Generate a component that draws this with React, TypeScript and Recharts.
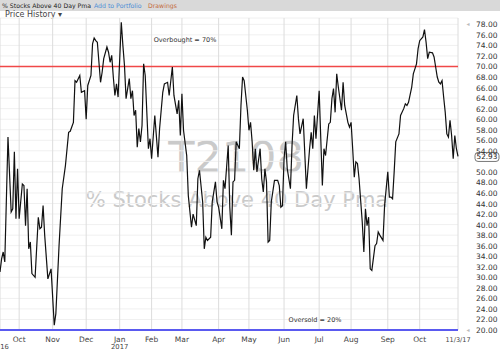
import { LineChart, Line, XAxis, YAxis, CartesianGrid, ReferenceLine } from 'recharts';

// trading-session index (0 = mid Sep 2016) and T2108 reading
const sessions = [
  0, 1, 2, 3, 5, 7, 8, 9, 10, 11,
  12, 14, 15, 16, 17, 18, 19, 20, 22, 24,
  25, 26, 27, 28, 30, 32, 34, 35, 37, 39,
  41, 43, 44, 46, 47, 48, 50, 51, 53, 54,
  55, 57, 58, 59, 60, 61, 63, 64, 65, 67,
  68, 69, 70, 71, 72, 73, 74, 76, 77, 78,
  79, 81, 82, 83, 84, 85, 86, 87, 88, 89,
  90, 91, 93, 94, 95, 97, 99, 100, 102, 103,
  105, 106, 108, 109, 111, 112, 113, 114, 115, 117,
  118, 120, 121, 123, 124, 125, 127, 128, 129, 130,
  132, 133, 135, 136, 137, 139, 140, 141, 143, 144,
  145, 146, 147, 148, 150, 151, 152, 153, 155, 156,
  157, 158, 159, 160, 161, 163, 164, 165, 166, 167,
  168, 169, 170, 172, 174, 175, 176, 177, 178, 179,
  180, 182, 183, 184, 186, 187, 188, 190, 192, 194,
  195, 196, 197, 198, 200, 202, 203, 204, 206, 207,
  208, 209, 210, 211, 212, 214, 215, 216, 218, 219,
  220, 221, 222, 223, 224, 225, 227, 228, 229, 230,
  231, 232, 233, 235, 236, 237, 238, 240, 241, 243,
  244, 245, 246, 247, 248, 250, 251, 253, 254, 255,
  256, 258, 259, 261, 262, 263, 265, 266, 267, 268,
  269, 271, 272, 273, 274, 275, 276, 277, 278, 279,
  280, 281, 282, 283, 284, 285, 286, 287,
];

const pct = [
  31, 33.5, 34.8, 32.9, 56.6, 42.4, 43, 53.8, 41.1, 50.6,
  41.1, 47.7, 47.4, 39.8, 46.8, 35.4, 36.7, 30.7, 30, 41.4,
  39.2, 39.5, 43.6, 38, 29.7, 31.6, 20.9, 23.1, 36, 46.8,
  51.2, 57.5, 57.7, 59.4, 67.3, 67, 68.3, 65.1, 65.4, 60,
  66.4, 68.3, 74.3, 75.4, 74.9, 74.6, 67, 68.9, 71.5, 73.7,
  72.7, 70.8, 72.1, 68, 64.5, 66.7, 64.2, 78.4, 74, 70.2,
  63.9, 67.7, 63.9, 65.4, 60.7, 61.7, 54.7, 58.2, 55.7, 58.8,
  70.5, 68.3, 54.4, 56.3, 52.5, 60.7, 52.8, 58.2, 65.1, 66.7,
  67, 64.5, 69.9, 64.5, 61, 63.6, 56.9, 64.8, 57.9, 53.1,
  45.5, 39.5, 42, 39.8, 48.7, 50.3, 44.3, 35.4, 37.6, 37,
  37.6, 44.3, 48.1, 44.3, 43.3, 39.2, 48.4, 46.8, 55, 43.3,
  38, 48.1, 48.4, 55.7, 54.4, 62.6, 68, 67.3, 61.7, 57.9,
  59.4, 55.7, 50.3, 54.4, 50, 54.4, 48.7, 46.2, 50.6, 48.1,
  36.7, 37, 44.3, 48.4, 48.4, 47.4, 43.3, 43.6, 52.5, 55.7,
  50.6, 46.8, 55, 60.7, 64.5, 60.1, 57.2, 60.1, 46.8, 54.4,
  57.5, 54.4, 60.7, 56.3, 65.4, 47.4, 54.4, 53.1, 59.1, 59.4,
  63.9, 65.8, 61.3, 68.6, 66.1, 61.7, 67, 62.6, 59.4, 58.5,
  59.4, 54.4, 49, 51.9, 51.6, 48.7, 40.5, 34.8, 43, 39.8,
  41.4, 31.6, 31.3, 36, 36.4, 38.6, 38, 37, 43.6, 50,
  45.2, 45.2, 44.9, 50, 55.7, 57.2, 60.7, 62, 62.9, 62.6,
  63.2, 66.1, 68.6, 70.5, 73.4, 74.9, 75.6, 77, 74.6, 71.5,
  72.7, 72.6, 71.8, 69.9, 68, 67, 66.7, 67.3, 64.2, 61.3,
  57.2, 56.6, 59.8, 56.9, 52.5, 56.9, 54.4, 52.93,
];

const monthTicks = [12, 33, 54, 75, 95, 114, 137, 156, 178, 200, 220, 243, 263, 287];
const monthLabels = ['Oct', 'Nov', 'Dec', 'Jan', 'Feb', 'Mar', 'Apr', 'May', 'Jun', 'Jul', 'Aug', 'Sep', 'Oct', '11/3/17'];
const yearLabels: Record<number, string> = { 12: '2016', 75: '2017' };
const yTicks = [20, 22, 24, 26, 28, 30, 32, 34, 36, 38, 40, 42, 44, 46, 48, 50, 52, 54, 56, 58, 60, 62, 64, 66, 68, 70, 72, 74, 76, 78];

const overbought = 70;
const oversold = 20;
const lastValue = pct[pct.length - 1];

const data = sessions.map((s, i) => ({ s, v: pct[i] }));

const FONT = '"DejaVu Sans", Verdana, sans-serif';

const MonthTick = ({ x, y, payload }: any) => {
  const i = monthTicks.indexOf(payload.value);
  const isLast = i === monthTicks.length - 1;
  const year = yearLabels[payload.value];
  return (
    <g fontFamily={FONT}>
      <text x={x} y={y + 10} textAnchor="middle" fontSize={isLast ? 6.5 : 7.5} fill="#444">
        {monthLabels[i]}
      </text>
      {year && (
        <text x={i === 0 ? x - 19 : x} y={y + 17} textAnchor="middle" fontSize={6.8} fill="#444">
          {year}
        </text>
      )}
    </g>
  );
};

const PriceTick = ({ x, y, payload }: any) => {
  const v = payload.value;
  // the last-price box sits over the nearest tick label
  if (Math.abs(v - lastValue) < 1) return null;
  return (
    <g fontFamily={FONT}>
      {(v === 78 || v === 20) && (
        <text x={x + 8} y={y + 2} textAnchor="middle" fontSize={6} fill="#bbb">◂</text>
      )}
      <text x={x + 16} y={y + 3} fontSize={7.5} fill="#333">{v.toFixed(2)}</text>
    </g>
  );
};

export default function App() {
  return (
    <div style={{ position: 'absolute', left: 0, top: 0, width: 500, height: 350, background: '#fff', fontFamily: FONT }}>
      <svg width={500} height={350} style={{ position: 'absolute', left: 0, top: 0 }}>
        <rect x={0} y={0} width={500} height={11} fill="#d9d9d9" />
        <text x={2} y={8} fontSize={6.2} fill="#222" fontFamily={FONT}>% Stocks Above 40 Day Pma</text>
        <text x={94} y={8} fontSize={6.2} fill="#4a8ed6" fontFamily={FONT}>Add to Portfolio</text>
        <text x={148} y={8} fontSize={6.2} fill="#c4693c" fontFamily={FONT}>Drawings</text>
        <text x={5} y={17} fontSize={8} fill="#444" fontFamily={FONT}>Price History ▾</text>
        <text x={236} y={172} textAnchor="middle" fontSize={43} fill="#cacaca" fontFamily={FONT}>T2108</text>
        <text x={237} y={207} textAnchor="middle" fontSize={21} fill="#cacaca" fontFamily={FONT}>% Stocks Above 40 Day Pma</text>
      </svg>
      <div style={{ position: 'absolute', left: 0, top: 0 }}>
        <LineChart width={500} height={350} data={data} margin={{ top: 18, right: 0, bottom: 0, left: 0 }}>
          <CartesianGrid horizontal vertical={false} stroke="#f0f0f0" />
          <CartesianGrid horizontal={false} vertical stroke="#dcdcdc" />
          <XAxis
            type="number"
            dataKey="s"
            domain={[0, 287]}
            ticks={monthTicks}
            interval={0}
            height={20}
            tickSize={0}
            axisLine={false}
            tickLine={false}
            tick={<MonthTick />}
          />
          <YAxis
            orientation="right"
            width={42}
            domain={[20, 79.2]}
            ticks={yTicks}
            interval={0}
            tickSize={0}
            axisLine={false}
            tickLine={false}
            tick={<PriceTick />}
          />
          <ReferenceLine
            y={overbought}
            stroke="#f04848"
            strokeWidth={1.5}
            label={({ viewBox }: any) => (
              <text x={viewBox.x + 185} y={viewBox.y - 24} textAnchor="middle" fontSize={6.5} fill="#333" fontFamily={FONT}>
                Overbought = 70%
              </text>
            )}
          />
          <ReferenceLine
            y={oversold}
            stroke="#5a5af0"
            strokeWidth={2}
            label={({ viewBox }: any) => (
              <text x={viewBox.x + 315} y={viewBox.y - 8} textAnchor="middle" fontSize={6.5} fill="#333" fontFamily={FONT}>
                Oversold = 20%
              </text>
            )}
          />
          <Line
            type="linear"
            dataKey="v"
            stroke="#111"
            strokeWidth={1.2}
            dot={false}
            isAnimationActive={false}
          />
          <ReferenceLine
            y={lastValue}
            stroke="none"
            label={({ viewBox }: any) => (
              <g fontFamily={FONT}>
                <rect x={viewBox.x + viewBox.width + 17} y={viewBox.y - 4} width={24} height={9} rx={3} fill="#fff" stroke="#555" strokeWidth={0.8} />
                <text x={viewBox.x + viewBox.width + 18.5} y={viewBox.y + 3} fontSize={7.3} fill="#222">
                  {lastValue.toFixed(2)}
                </text>
              </g>
            )}
          />
        </LineChart>
      </div>
    </div>
  );
}
